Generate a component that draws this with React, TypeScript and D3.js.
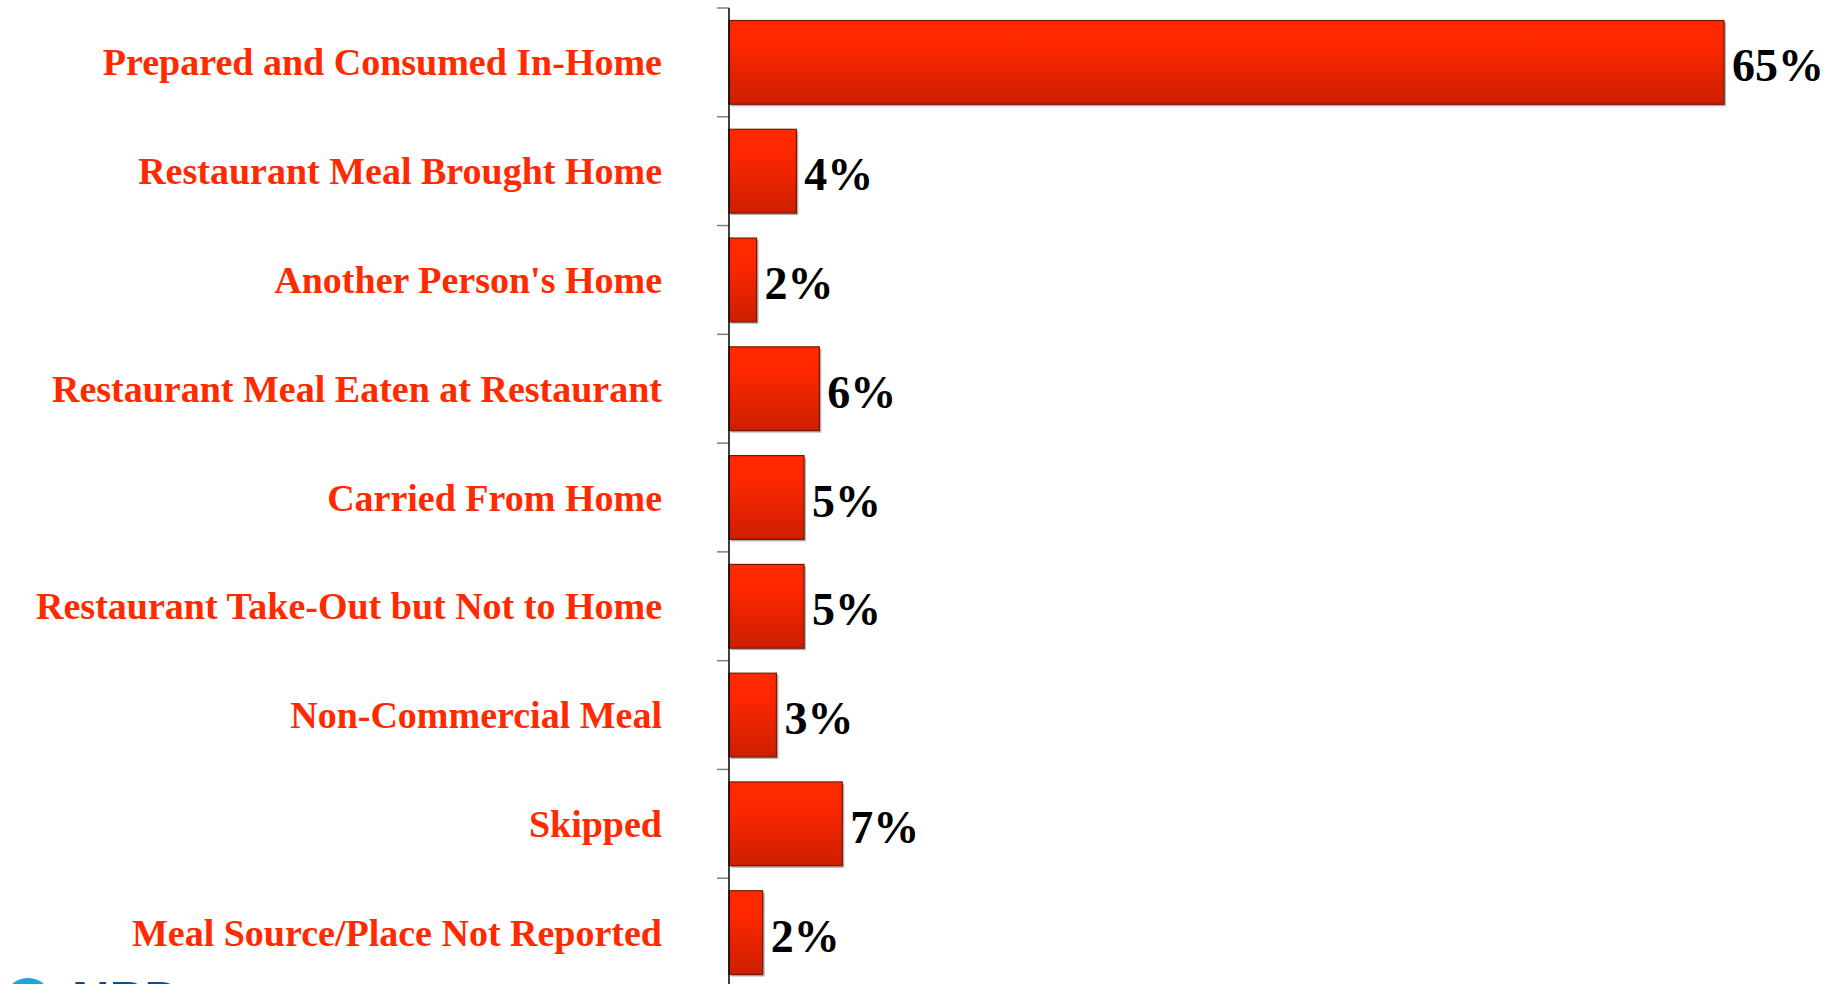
import React, { useEffect, useRef } from 'react';
import * as d3 from 'd3';

const categories = [
  'Prepared and Consumed In-Home',
  'Restaurant Meal Brought Home',
  "Another Person's Home",
  'Restaurant Meal Eaten at Restaurant',
  'Carried From Home',
  'Restaurant Take-Out but Not to Home',
  'Non-Commercial Meal',
  'Skipped',
  'Meal Source/Place Not Reported',
];

const shares = [65, 4.4, 1.8, 5.9, 4.9, 4.9, 3.1, 7.4, 2.2];

const axisMax = 65;

const W = 1844;
const H = 984;

const App: React.FC = () => {
  const svgRef = useRef<SVGSVGElement>(null);

  useEffect(() => {
    if (!svgRef.current) return;
    d3.select(svgRef.current).selectAll('*').remove();

    const svg = d3.select(svgRef.current).attr('width', W).attr('height', H);

    const data = categories.map((name, i) => ({ name, value: shares[i] }));

    const axisX = 729;
    const y = d3.scaleBand<string>()
      .domain(categories)
      .range([8, 987])
      .paddingInner(0.23)
      .paddingOuter(0.115);
    const x = d3.scaleLinear().domain([0, axisMax]).range([axisX, 1724]);

    const defs = svg.append('defs');
    const grad = defs.append('linearGradient')
      .attr('id', 'barGrad')
      .attr('x1', 0).attr('y1', 0).attr('x2', 0).attr('y2', 1);
    grad.append('stop').attr('offset', '0%').attr('stop-color', '#ff2a00');
    grad.append('stop').attr('offset', '25%').attr('stop-color', '#ff2800');
    grad.append('stop').attr('offset', '100%').attr('stop-color', '#cc1f00');

    const step = y.step();
    const pad = step * y.paddingInner();

    // ticks between categories
    const tickYs = categories.map(c => (y(c) ?? 0) - pad / 2);
    svg.selectAll('.tick')
      .data(tickYs)
      .enter()
      .append('line')
      .attr('x1', axisX - 12)
      .attr('x2', axisX)
      .attr('y1', d => d)
      .attr('y2', d => d)
      .style('stroke', '#808080')
      .style('stroke-width', '1.5px');

    // shadow
    svg.selectAll('.shadow')
      .data(data)
      .enter()
      .append('rect')
      .attr('x', axisX + 2)
      .attr('y', d => (y(d.name) ?? 0) + 2)
      .attr('width', d => x(d.value) - axisX)
      .attr('height', y.bandwidth())
      .style('fill', '#b0b0b0');

    svg.selectAll('.bar')
      .data(data)
      .enter()
      .append('rect')
      .attr('x', axisX)
      .attr('y', d => y(d.name) ?? 0)
      .attr('width', d => x(d.value) - axisX)
      .attr('height', y.bandwidth())
      .style('fill', 'url(#barGrad)')
      .style('stroke', '#7a1500')
      .style('stroke-width', '1.2px');

    // axis line
    svg.append('line')
      .attr('x1', axisX).attr('x2', axisX)
      .attr('y1', 8).attr('y2', H)
      .style('stroke', '#000')
      .style('stroke-width', '1.5px');

    // category labels
    svg.selectAll('.cat')
      .data(data)
      .enter()
      .append('text')
      .attr('x', 662)
      .attr('y', d => (y(d.name) ?? 0) + y.bandwidth() / 2 + 13)
      .attr('text-anchor', 'end')
      .style('font-family', '"Liberation Serif", "Times New Roman", serif')
      .style('font-weight', 'bold')
      .style('font-size', '38px')
      .style('fill', '#ff2a00')
      .text(d => d.name);

    // value labels
    const fmt = d3.format('.0f');
    svg.selectAll('.val')
      .data(data)
      .enter()
      .append('text')
      .attr('x', d => x(d.value) + 8)
      .attr('y', d => (y(d.name) ?? 0) + y.bandwidth() / 2 + 19)
      .style('font-family', '"Liberation Serif", "Times New Roman", serif')
      .style('font-weight', 'bold')
      .style('font-size', '46px')
      .style('fill', '#000')
      .text(d => fmt(d.value) + '%');

    // logo peeking at the bottom edge
    svg.append('circle')
      .attr('cx', 28).attr('cy', 1002).attr('r', 24)
      .style('fill', '#1ba3dc');
    svg.append('text')
      .attr('x', 72).attr('y', 1018)
      .style('font-family', '"Liberation Sans", Arial, sans-serif')
      .style('font-weight', 'bold')
      .style('font-size', '52px')
      .style('fill', '#0d4f8b')
      .text('NPD');
  }, []);

  return (
    <svg
      ref={svgRef}
      style={{ position: 'absolute', left: 0, top: 0, display: 'block', background: '#fff' }}
    />
  );
};

export default App;
